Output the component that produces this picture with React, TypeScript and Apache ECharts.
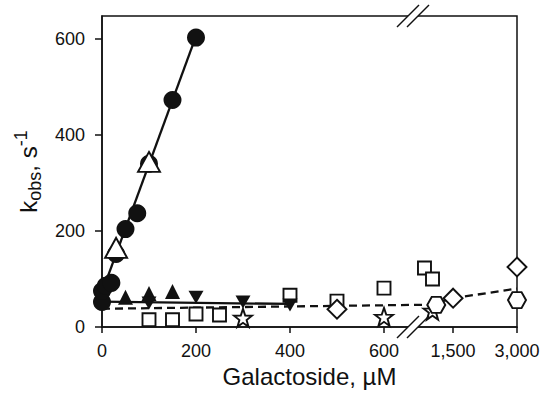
import React, { useEffect, useRef } from 'react';
import * as echarts from 'echarts';

// ---- data (µM, s^-1) ----
const xTickValues = [0, 200, 400, 600, 1500, 3000];
const xTickLabels = ['0', '200', '400', '600', '1,500', '3,000'];
const yTickValues = [0, 200, 400, 600];

const filledCircles = [[0, 52], [0, 75], [8, 86], [20, 92], [30, 152], [50, 204], [75, 237], [100, 340], [150, 473], [200, 603]];
const openTriangles = [[30, 165], [100, 344]];
const filledUpTriangles = [[50, 62], [100, 70], [150, 74]];
const filledDownTriangles = [[100, 50], [200, 62], [300, 52], [400, 46]];
const openSquares = [[100, 15], [150, 15], [200, 27], [250, 25], [400, 66], [500, 54], [600, 81], [1100, 123], [1200, 100]];
const openStars = [[300, 19], [600, 21], [1200, 34]];
const openDiamonds = [[500, 37], [1500, 60], [3000, 125]];
const openHexagons = [[1250, 46], [3000, 56]];
const steepFit = [[0, 72], [200, 606]];
const flatFit = [[0, 53], [400, 48]];
const dashedFit = [[0, 38], [660, 46], [1150, 46], [1500, 60], [3000, 80]];

// ---- broken axis scale: linear up to the break, logarithmic after ----
const LEFT_MAX = 662;
const AXIS_MAX = 883;
const POS_1500 = 747;
const K = (AXIS_MAX - POS_1500) / Math.log10(2);
const toAxis = (v: number) => (v <= LEFT_MAX ? v : POS_1500 + Math.log10(v / 1500) * K);
const mapPts = (arr: number[][]) => arr.map(([x, y]) => [toAxis(x), y]);

const FONT = 'Liberation Sans, Arial, Helvetica, sans-serif';
const INK = '#111';

const STAR = 'path://M50 0 L61.76 33.82 L97.55 34.55 L69.02 56.18 L79.39 90.45 L50 70 L20.61 90.45 L30.98 56.18 L2.45 34.55 L38.24 33.82 Z';
const HEX = 'path://M25 0 L75 0 L100 50 L75 100 L25 100 L0 50 Z';

function breakMark(cx1: number, cx2: number, cy: number) {
  const h = 11;
  return [
    {
      type: 'polygon',
      shape: { points: [[cx1 + 4, cy - 4], [cx2 + 4, cy - 4], [cx2 - 4, cy + 4], [cx1 - 4, cy + 4]] },
      style: { fill: '#fff' },
      z: 100,
    },
    { type: 'line', shape: { x1: cx1 - h, y1: cy + h, x2: cx1 + h, y2: cy - h }, style: { stroke: INK, lineWidth: 1.5 }, z: 101 },
    { type: 'line', shape: { x1: cx2 - h, y1: cy + h, x2: cx2 + h, y2: cy - h }, style: { stroke: INK, lineWidth: 1.5 }, z: 101 },
  ];
}

export default function App() {
  const ref = useRef<HTMLDivElement>(null);
  useEffect(() => {
    if (!ref.current) return;
    const chart = echarts.init(ref.current, null, { renderer: 'svg' });
    const tickPos = xTickValues.map(toAxis);
    const openStyle = { color: '#fff', borderColor: INK, borderWidth: 1.9, opacity: 1 };
    const filledStyle = { color: INK, borderColor: INK, borderWidth: 0, opacity: 1 };
    const scatter = (data: number[][], symbol: string, size: any, style: any, extra: any = {}) => ({
      type: 'scatter',
      data: mapPts(data),
      symbol,
      symbolSize: size,
      itemStyle: style,
      silent: true,
      z: 3,
      ...extra,
    });
    const line = (data: number[][], type: any) => ({
      type: 'line',
      data: mapPts(data),
      showSymbol: false,
      symbol: 'none',
      lineStyle: { color: INK, width: 2.3, type, opacity: 1 },
      silent: true,
      z: 2,
    });
    chart.setOption({
      animation: false,
      textStyle: { fontFamily: FONT },
      grid: { left: 102, right: 30, top: 16, bottom: 67, show: true, borderColor: INK, borderWidth: 1.5 },
      xAxis: {
        type: 'value',
        min: 0,
        max: AXIS_MAX,
        splitLine: { show: false },
        axisLine: { lineStyle: { color: INK, width: 1.5 } },
        axisTick: { customValues: tickPos, length: 6, lineStyle: { color: INK, width: 1.5 } },
        axisLabel: {
          customValues: tickPos,
          margin: 15,
          fontSize: 18,
          color: INK,
          fontFamily: FONT,
          formatter: (v: number) => {
            const i = tickPos.findIndex((p) => Math.abs(p - v) < 0.5);
            return i >= 0 ? xTickLabels[i] : '';
          },
        },
        name: 'Galactoside, µM',
        nameLocation: 'middle',
        nameGap: 31,
        nameTextStyle: { fontSize: 24, color: INK, fontFamily: FONT },
      },
      yAxis: {
        type: 'value',
        min: 0,
        max: 648,
        interval: 200,
        splitLine: { show: false },
        axisLine: { lineStyle: { color: INK, width: 1.5 } },
        axisTick: { customValues: yTickValues, length: 7, lineStyle: { color: INK, width: 1.5 } },
        axisLabel: { customValues: yTickValues, margin: 17, fontSize: 18, color: INK, fontFamily: FONT },
        name: '{m|k}{sub|obs}{m|, s}{sup|-1}',
        nameLocation: 'middle',
        nameRotate: 90,
        nameGap: 58,
        nameTextStyle: {
          color: INK,
          fontFamily: FONT,
          rich: {
            m: { fontSize: 24, lineHeight: 32, color: INK, fontFamily: FONT },
            sub: { fontSize: 18, lineHeight: 18, verticalAlign: 'bottom', color: INK, fontFamily: FONT },
            sup: { fontSize: 18, lineHeight: 18, verticalAlign: 'top', color: INK, fontFamily: FONT },
          },
        },
      },
      series: [
        line(dashedFit, [8, 5]),
        line(flatFit, 'solid'),
        line(steepFit, 'solid'),
        scatter(openSquares, 'rect', 13, openStyle),
        scatter(openStars, STAR, 18, openStyle),
        scatter(openDiamonds, 'diamond', 19, openStyle),
        scatter(openHexagons, HEX, [18, 16], openStyle),
        scatter(filledCircles, 'circle', 18, filledStyle),
        scatter(openTriangles, 'triangle', [22, 20], openStyle),
        scatter(filledUpTriangles, 'triangle', 15, filledStyle),
        scatter(filledDownTriangles, 'triangle', [15, 13], filledStyle, { symbolRotate: 180 }),
      ],
      graphic: [...breakMark(408, 418, 16), ...breakMark(408, 418, 327)],
    });
    return () => chart.dispose();
  }, []);
  return <div ref={ref} style={{ position: 'fixed', left: 0, top: 0, width: 547, height: 394, background: '#fff' }} />;
}
